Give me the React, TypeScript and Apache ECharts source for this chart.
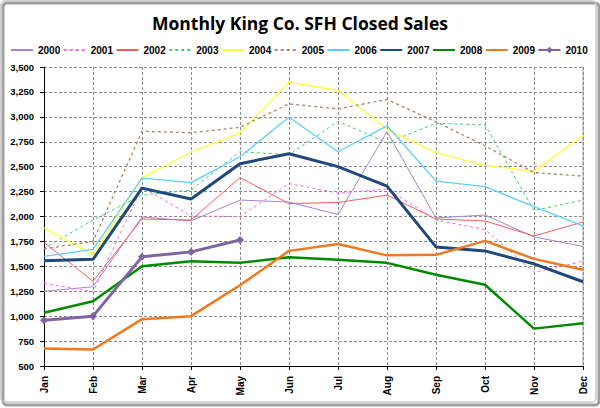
import React, { useEffect, useRef } from "react";
import * as echarts from "echarts";

const months = ["Jan", "Feb", "Mar", "Apr", "May", "Jun", "Jul", "Aug", "Sep", "Oct", "Nov", "Dec"];

const s2000 = [1250, 1295, 1995, 1955, 2165, 2145, 2020, 2850, 1985, 2015, 1795, 1700];
const s2001 = [1330, 1245, 2295, 2005, 2000, 2330, 2235, 2275, 1965, 1870, 1440, 1550];
const s2002 = [1740, 1350, 1975, 1965, 2390, 2130, 2140, 2215, 1975, 1955, 1805, 1945];
const s2003 = [1680, 1965, 2215, 2265, 2650, 2620, 2955, 2740, 2935, 2920, 2060, 2165];
const s2004 = [1885, 1615, 2390, 2645, 2840, 3345, 3265, 2875, 2640, 2510, 2455, 2810];
const s2005 = [1675, 1750, 2855, 2840, 2895, 3130, 3080, 3175, 2950, 2710, 2440, 2405];
const s2006 = [1600, 1670, 2385, 2340, 2600, 2995, 2650, 2910, 2355, 2300, 2100, 1905];
const s2007 = [1555, 1570, 2285, 2175, 2530, 2630, 2500, 2305, 1695, 1655, 1525, 1345];
const s2008 = [1035, 1150, 1500, 1550, 1535, 1590, 1565, 1535, 1415, 1315, 875, 930];
const s2009 = [675, 665, 970, 1000, 1310, 1655, 1725, 1610, 1615, 1755, 1575, 1465];
const s2010 = [960, 1000, 1595, 1645, 1765];

const yMin = 500;
const yMax = 3500;
const yStep = 250;

type Def = { name: string; data: number[]; color: string; width: number; dash?: number[]; marker?: boolean };

const defs: Def[] = [
  { name: "2000", data: s2000, color: "#A783D3", width: 1 },
  { name: "2001", data: s2001, color: "#FF66DD", width: 1, dash: [3, 3] },
  { name: "2002", data: s2002, color: "#FF5A5A", width: 1 },
  { name: "2003", data: s2003, color: "#40CC70", width: 1, dash: [3, 3] },
  { name: "2004", data: s2004, color: "#FFFF3A", width: 1.3 },
  { name: "2005", data: s2005, color: "#A98763", width: 1.3, dash: [3, 3] },
  { name: "2006", data: s2006, color: "#5CCFFF", width: 1.3 },
  { name: "2007", data: s2007, color: "#1F497D", width: 3 },
  { name: "2008", data: s2008, color: "#008A00", width: 2.5 },
  { name: "2009", data: s2009, color: "#F0781E", width: 2.5 },
  { name: "2010", data: s2010, color: "#8064A2", width: 3, marker: true },
];

export default function App() {
  const ref = useRef<HTMLDivElement>(null);
  useEffect(() => {
    if (!ref.current) return;
    const chart = echarts.init(ref.current, undefined, { renderer: "svg" });
    const fmt = (v: number) => v.toLocaleString("en-US");
    const clear = "rgba(0,0,0,0)";
    chart.setOption({
      animation: false,
      backgroundColor: "#ffffff",
      title: {
        text: "Monthly King Co. SFH Closed Sales",
        left: "center",
        top: 9,
        textStyle: { fontFamily: "Open Sans", fontWeight: "bold", fontSize: 17.5, color: "#000" },
      },
      legend: {
        top: 45,
        left: 10,
        width: 590,
        padding: 0,
        itemWidth: 22,
        itemHeight: 8,
        itemGap: 2.5,
        textStyle: { fontFamily: "Liberation Sans", fontWeight: "bold", fontSize: 10, color: "#000" },
        data: defs.map((d) =>
          d.marker
            ? { name: d.name }
            : { name: d.name, itemStyle: { color: clear, borderColor: clear, borderWidth: 0 } }
        ),
      },
      grid: { left: 44, right: 17, top: 67, bottom: 42, containLabel: false },
      xAxis: {
        type: "category",
        data: months,
        boundaryGap: false,
        axisLine: { lineStyle: { color: "#000", width: 1 } },
        axisTick: { show: true, alignWithLabel: true, length: 4, lineStyle: { color: "#000" } },
        axisLabel: { rotate: 90, margin: 10, fontFamily: "Liberation Sans", fontWeight: "bold", fontSize: 10, color: "#000" },
        splitLine: { show: true, lineStyle: { color: "#8a8a8a", type: [3, 2], width: 1 } },
      },
      yAxis: {
        type: "value",
        min: yMin,
        max: yMax,
        interval: yStep,
        axisLine: { show: true, lineStyle: { color: "#000", width: 1 } },
        axisTick: { show: true, length: 4, lineStyle: { color: "#000" } },
        axisLabel: { margin: 10, formatter: fmt, fontFamily: "Liberation Sans", fontWeight: "bold", fontSize: 9.5, color: "#000" },
        splitLine: { show: true, lineStyle: { color: "#8a8a8a", type: [3, 2], width: 1 } },
      },
      graphic: [
        {
          type: "rect",
          shape: { x: 3, y: 3, width: 596, height: 402, r: 4 },
          style: { fill: "none", stroke: "#a0a0a0", lineWidth: 3 },
          silent: true,
          z: -1,
        },
        {
          type: "rect",
          shape: { x: 1, y: 1, width: 595, height: 401, r: 4 },
          style: { fill: "none", stroke: "#c8c8c8", lineWidth: 1.5 },
          silent: true,
        },
        {
          type: "line",
          shape: { x1: 583, y1: 67, x2: 583, y2: 366 },
          style: { stroke: "#a0a0a0", lineWidth: 1 },
          silent: true,
        },
      ],
      series: defs.map((d, i) => ({
        name: d.name,
        type: "line",
        data: d.data,
        z: 2 + i,
        symbol: d.marker ? "diamond" : "none",
        symbolSize: d.marker ? 8 : 0,
        showSymbol: !!d.marker,
        itemStyle: { color: d.color },
        lineStyle: { color: d.color, width: d.width, type: d.dash ? d.dash : "solid" },
        emphasis: { disabled: true },
      })),
    });
    return () => chart.dispose();
  }, []);
  return <div ref={ref} style={{ position: "absolute", left: 0, top: 0, width: 600, height: 408 }} />;
}
